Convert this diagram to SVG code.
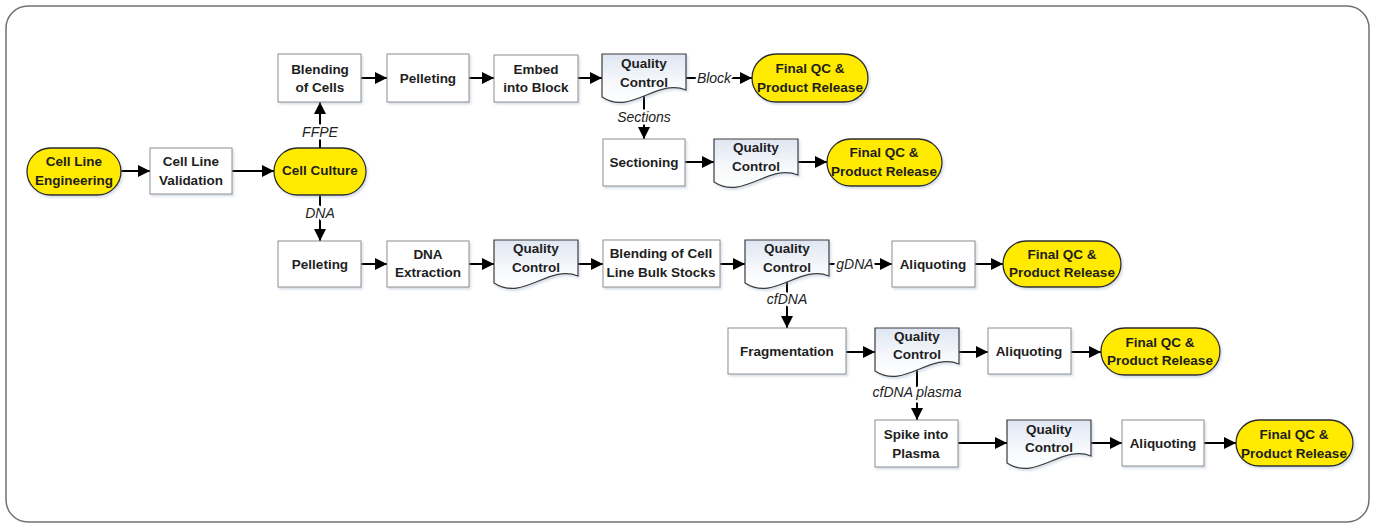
<svg xmlns="http://www.w3.org/2000/svg" xmlns:xlink="http://www.w3.org/1999/xlink" width="1374" height="524" viewBox="0 0 1374 524">
<style>
.frame{fill:#fff;stroke:#707070;stroke-width:1.5}
.box{fill:#fff;stroke:#8e8e8e;stroke-width:1;filter:url(#sh)}
.term{fill:#ffea00;stroke:#2b2b2b;stroke-width:1.3;filter:url(#sh)}
.doc{fill:url(#docg);stroke:#3a3a3a;stroke-width:1.2;filter:url(#sh)}
.t{font-family:"Liberation Sans",Arial,sans-serif;font-weight:bold;font-size:13.5px;fill:#1e1e1e;text-anchor:middle}
.lbl{font-family:"Liberation Sans",Arial,sans-serif;font-style:italic;font-size:14px;fill:#222;text-anchor:middle;stroke:#fff;stroke-width:5;paint-order:stroke;stroke-linejoin:round}
.c{fill:none;stroke:#000;stroke-width:2;marker-end:url(#ah)}
</style>
<defs>
<linearGradient id="docg" x1="0" y1="0" x2="0" y2="1">
<stop offset="0" stop-color="#dfe6f2"/>
<stop offset="0.6" stop-color="#f7f9fc"/>
<stop offset="1" stop-color="#ffffff"/>
</linearGradient>
<filter id="sh" x="-10%" y="-10%" width="130%" height="140%">
<feDropShadow dx="1.5" dy="2" stdDeviation="1.2" flood-color="#8fa3c0" flood-opacity="0.35"/>
</filter>
<marker id="ah" markerUnits="userSpaceOnUse" markerWidth="13" markerHeight="13" refX="12" refY="6.5" orient="auto">
<path d="M0,0.5 L12,6.5 L0,12.5 Z" fill="#000"/>
</marker>
<path id="qc" d="M0,0 H84 V36 C54.6,24 29.4,62 0,43 Z"/>
</defs>

<rect class="frame" x="6" y="6" width="1363" height="516" rx="22"/>

<g id="connectors">
<path class="c" d="M121,171 H150"/>
<path class="c" d="M232,171 H274"/>
<path class="c" d="M320,148 V102"/>
<path class="c" d="M320,195 V241"/>
<path class="c" d="M361,78 H387"/>
<path class="c" d="M469,78 H494"/>
<path class="c" d="M578,78 H602"/>
<path class="c" d="M686,78 H752"/>
<path class="c" d="M644,96 V139"/>
<path class="c" d="M685,162 H714"/>
<path class="c" d="M797,162 H827"/>
<path class="c" d="M361,264 H387"/>
<path class="c" d="M469,264 H494"/>
<path class="c" d="M578,264 H603"/>
<path class="c" d="M720,264 H745"/>
<path class="c" d="M829,264 H892"/>
<path class="c" d="M975,264 H1003"/>
<path class="c" d="M787,282 V328"/>
<path class="c" d="M846,352 H875"/>
<path class="c" d="M958,352 H988"/>
<path class="c" d="M1071,352 H1101"/>
<path class="c" d="M917,370 V420"/>
<path class="c" d="M958,443 H1007"/>
<path class="c" d="M1091,443 H1122"/>
<path class="c" d="M1204,443 H1236"/>
<text class="lbl" x="320" y="137">FFPE</text>
<text class="lbl" x="320" y="218">DNA</text>
<text class="lbl" x="644" y="122">Sections</text>
<text class="lbl" x="714" y="83">Block</text>
<text class="lbl" x="855" y="269">gDNA</text>
<text class="lbl" x="787" y="304">cfDNA</text>
<text class="lbl" x="917" y="397">cfDNA plasma</text>
</g>

<g id="cell-line-engineering">
<rect class="term" x="27" y="148" width="94" height="47" rx="23.5"/>
<text class="t" x="74" y="166">Cell Line</text>
<text class="t" x="74" y="185">Engineering</text>
</g>
<g id="cell-line-validation">
<rect class="box" x="150" y="148" width="82" height="46"/>
<text class="t" x="191" y="166">Cell Line</text>
<text class="t" x="191" y="185">Validation</text>
</g>
<g id="cell-culture">
<rect class="term" x="274" y="148" width="92" height="47" rx="23.5"/>
<text class="t" x="320" y="175">Cell Culture</text>
</g>

<g id="blending-of-cells">
<rect class="box" x="278" y="54" width="83" height="48"/>
<text class="t" x="320" y="74">Blending</text>
<text class="t" x="320" y="92">of Cells</text>
</g>
<g id="pelleting-ffpe">
<rect class="box" x="387" y="54" width="82" height="48"/>
<text class="t" x="428" y="83">Pelleting</text>
</g>
<g id="embed-into-block">
<rect class="box" x="494" y="55" width="84" height="47"/>
<text class="t" x="536" y="74">Embed</text>
<text class="t" x="536" y="92">into Block</text>
</g>
<g id="qc-ffpe">
<use xlink:href="#qc" href="#qc" class="doc" x="602" y="54"/>
<text class="t" x="644" y="68">Quality</text>
<text class="t" x="644" y="87">Control</text>
</g>
<g id="final-block">
<rect class="term" x="752" y="54" width="116" height="48" rx="24"/>
<text class="t" x="810" y="73">Final QC &amp;</text>
<text class="t" x="810" y="92">Product Release</text>
</g>
<g id="sectioning">
<rect class="box" x="603" y="139" width="82" height="47"/>
<text class="t" x="644" y="167">Sectioning</text>
</g>
<g id="qc-sections">
<use xlink:href="#qc" href="#qc" class="doc" x="714" y="139"/>
<text class="t" x="756" y="152">Quality</text>
<text class="t" x="756" y="171">Control</text>
</g>
<g id="final-sections">
<rect class="term" x="827" y="139" width="115" height="47" rx="23.5"/>
<text class="t" x="884" y="157">Final QC &amp;</text>
<text class="t" x="884" y="176">Product Release</text>
</g>

<g id="pelleting-dna">
<rect class="box" x="278" y="241" width="83" height="46"/>
<text class="t" x="320" y="269">Pelleting</text>
</g>
<g id="dna-extraction">
<rect class="box" x="387" y="241" width="82" height="46"/>
<text class="t" x="428" y="259">DNA</text>
<text class="t" x="428" y="277">Extraction</text>
</g>
<g id="qc-dna">
<use xlink:href="#qc" href="#qc" class="doc" x="494" y="240"/>
<text class="t" x="536" y="253">Quality</text>
<text class="t" x="536" y="272">Control</text>
</g>
<g id="blending-bulk">
<rect class="box" x="603" y="240" width="117" height="47"/>
<text class="t" x="661" y="258">Blending of Cell</text>
<text class="t" x="661" y="277">Line Bulk Stocks</text>
</g>
<g id="qc-bulk">
<use xlink:href="#qc" href="#qc" class="doc" x="745" y="240"/>
<text class="t" x="787" y="253">Quality</text>
<text class="t" x="787" y="272">Control</text>
</g>
<g id="aliquoting-gdna">
<rect class="box" x="892" y="241" width="83" height="46"/>
<text class="t" x="933" y="269">Aliquoting</text>
</g>
<g id="final-gdna">
<rect class="term" x="1003" y="241" width="118" height="46" rx="23"/>
<text class="t" x="1062" y="259">Final QC &amp;</text>
<text class="t" x="1062" y="277">Product Release</text>
</g>

<g id="fragmentation">
<rect class="box" x="728" y="328" width="118" height="46"/>
<text class="t" x="787" y="356">Fragmentation</text>
</g>
<g id="qc-cfdna">
<use xlink:href="#qc" href="#qc" class="doc" x="875" y="328"/>
<text class="t" x="917" y="341">Quality</text>
<text class="t" x="917" y="359">Control</text>
</g>
<g id="aliquoting-cfdna">
<rect class="box" x="988" y="328" width="83" height="46"/>
<text class="t" x="1029" y="356">Aliquoting</text>
</g>
<g id="final-cfdna">
<rect class="term" x="1101" y="328" width="119" height="47" rx="23.5"/>
<text class="t" x="1160" y="347">Final QC &amp;</text>
<text class="t" x="1160" y="365">Product Release</text>
</g>

<g id="spike-into-plasma">
<rect class="box" x="875" y="420" width="83" height="47"/>
<text class="t" x="916" y="439">Spike into</text>
<text class="t" x="916" y="458">Plasma</text>
</g>
<g id="qc-plasma">
<use xlink:href="#qc" href="#qc" class="doc" x="1007" y="420"/>
<text class="t" x="1049" y="434">Quality</text>
<text class="t" x="1049" y="452">Control</text>
</g>
<g id="aliquoting-plasma">
<rect class="box" x="1122" y="420" width="82" height="46"/>
<text class="t" x="1163" y="448">Aliquoting</text>
</g>
<g id="final-plasma">
<rect class="term" x="1236" y="420" width="117" height="46" rx="23"/>
<text class="t" x="1294" y="439">Final QC &amp;</text>
<text class="t" x="1294" y="458">Product Release</text>
</g>
</svg>
